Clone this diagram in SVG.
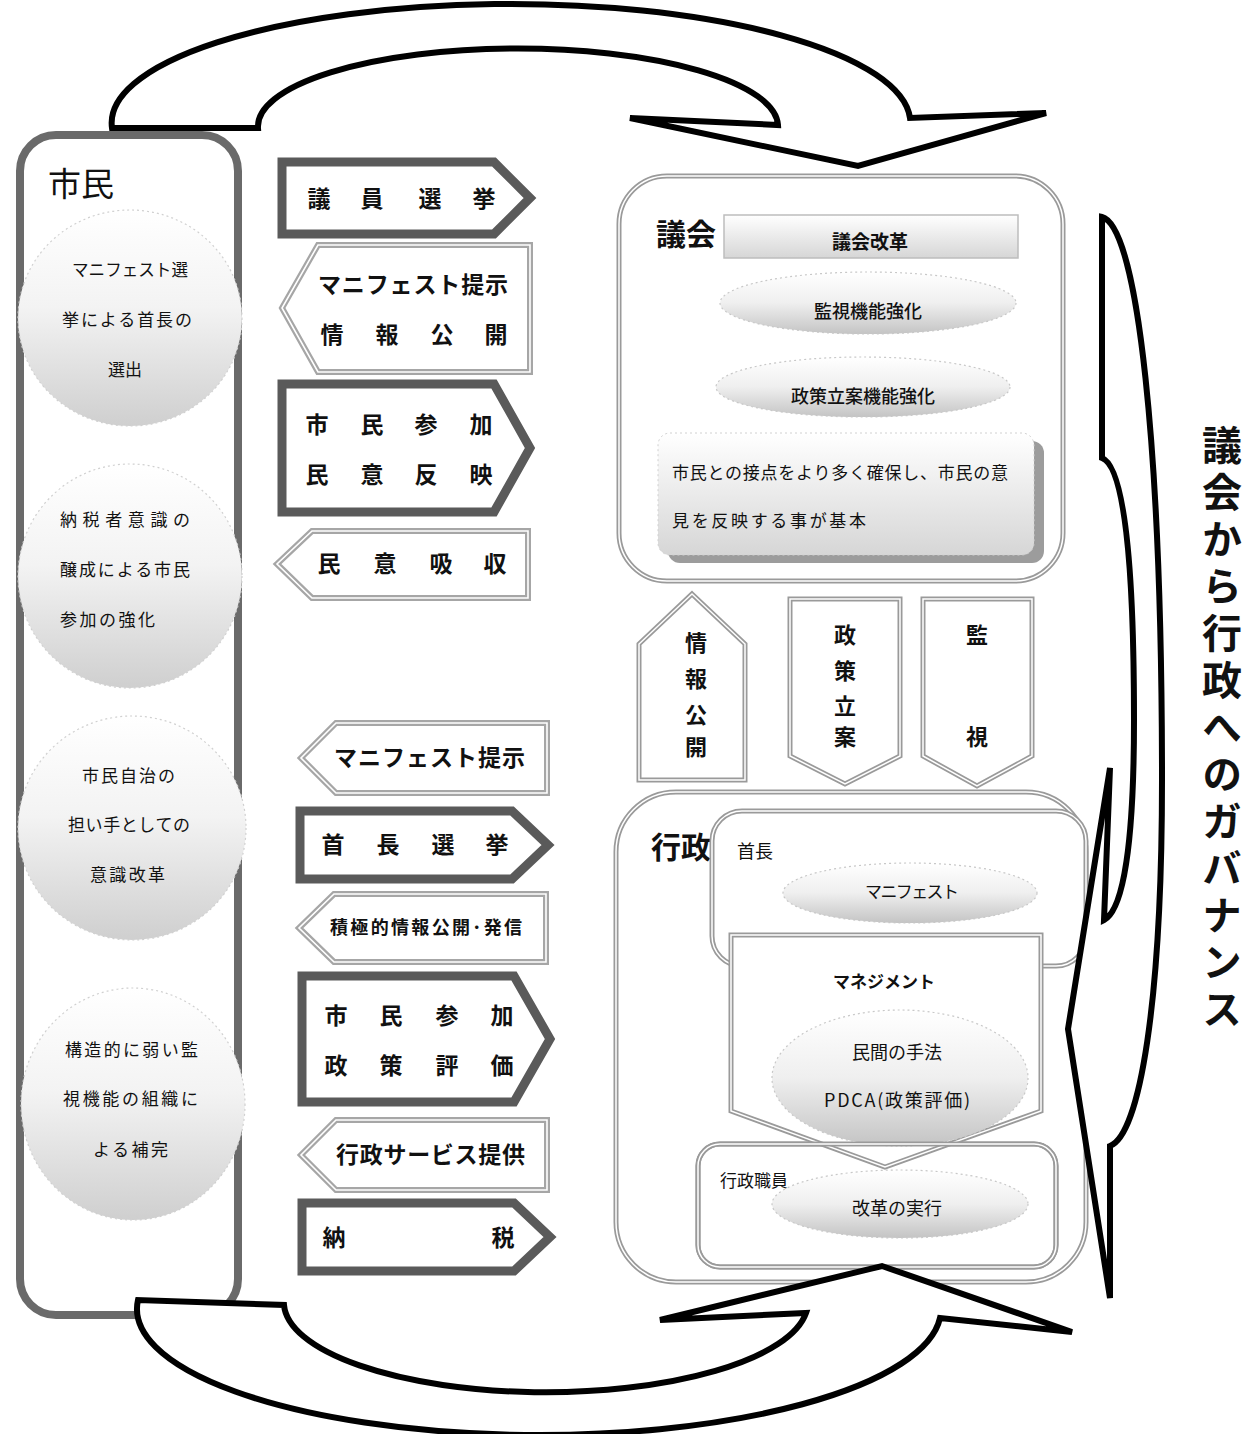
<svg xmlns="http://www.w3.org/2000/svg" width="1248" height="1434" viewBox="0 0 1248 1434">
<defs>
<linearGradient id="gC" x1="0" y1="0" x2="0" y2="1">
<stop offset="0" stop-color="#ffffff"/>
<stop offset="0.45" stop-color="#f3f3f3"/>
<stop offset="1" stop-color="#cfcfcf"/>
</linearGradient>
<linearGradient id="gE" x1="0" y1="0" x2="0" y2="1">
<stop offset="0" stop-color="#ffffff"/>
<stop offset="0.5" stop-color="#efefef"/>
<stop offset="1" stop-color="#c4c4c4"/>
</linearGradient>
<linearGradient id="gR" x1="0" y1="0" x2="0" y2="1">
<stop offset="0" stop-color="#ffffff"/>
<stop offset="1" stop-color="#d6d6d6"/>
</linearGradient>
</defs>
<style>
.t{font-family:"Noto Sans CJK JP","Noto Sans CJK SC",sans-serif;fill:#111}
.b{font-weight:bold}
.heavy{fill:#fff;stroke:#5a5a5a;stroke-width:9;stroke-linejoin:miter}
.light{fill:#fff;stroke:#a6a6a6;stroke-width:6;stroke-linejoin:miter}
.inner{fill:none;stroke:#fff;stroke-width:1.6;stroke-linejoin:miter}
.dbl{fill:#fff;stroke:#9a9a9a;stroke-width:5}
.big{fill:#fff;stroke:#000;stroke-width:6;stroke-linejoin:miter}
.circ{fill:url(#gC);stroke:#d0d0d0;stroke-width:1.2;stroke-dasharray:2 3}
.ell{fill:url(#gE);stroke:#c8c8c8;stroke-width:1.2;stroke-dasharray:2 3}
</style>

<!-- Citizens column -->
<g id="citizens">
<rect x="20" y="135" width="218" height="1180" rx="36" fill="#fff" stroke="#6a6a6a" stroke-width="8"/>
<text class="t" x="48" y="196" font-size="33">市民</text>
</g>
<g id="c1">
<ellipse class="circ" cx="130" cy="318" rx="112" ry="108"/>
<text class="t" font-size="17">
<tspan x="72" y="276" textLength="116" lengthAdjust="spacingAndGlyphs">マニフェスト選</tspan>
<tspan x="62" y="326" textLength="130">挙による首長の</tspan>
<tspan x="108" y="376">選出</tspan>
</text>
</g>
<g id="c2">
<ellipse class="circ" cx="130" cy="576" rx="112" ry="112"/>
<text class="t" font-size="17">
<tspan x="60" y="526" textLength="130">納税者意識の</tspan>
<tspan x="60" y="576" textLength="130">醸成による市民</tspan>
<tspan x="60" y="626" textLength="95">参加の強化</tspan>
</text>
</g>
<g id="c3">
<ellipse class="circ" cx="132" cy="828" rx="114" ry="112"/>
<text class="t" font-size="17">
<tspan x="82" y="782" textLength="93">市民自治の</tspan>
<tspan x="68" y="831" textLength="122">担い手としての</tspan>
<tspan x="90" y="881" textLength="75">意識改革</tspan>
</text>
</g>
<g id="c4">
<ellipse class="circ" cx="133" cy="1104" rx="112" ry="116"/>
<text class="t" font-size="17">
<tspan x="65" y="1056" textLength="133">構造的に弱い監</tspan>
<tspan x="63" y="1105" textLength="135">視機能の組織に</tspan>
<tspan x="93" y="1156" textLength="75">よる補完</tspan>
</text>
</g>

<!-- Middle arrows, upper group -->
<g id="a1">
<path class="heavy" d="M 282 162 H 494 L 530 198 L 494 234 H 282 Z"/>
<text class="t b" font-size="23" text-anchor="middle"><tspan x="319" y="207">議</tspan><tspan x="372" y="207">員</tspan><tspan x="430" y="207">選</tspan><tspan x="484" y="207">挙</tspan></text>
</g>
<g id="a2">
<path class="light" d="M 318 245 H 530 V 372 H 318 L 282 308 Z"/>
<path class="inner" d="M 318 245 H 530 V 372 H 318 L 282 308 Z"/>
<text class="t b" font-size="23"><tspan x="318" y="293" textLength="190">マニフェスト提示</tspan></text>
<text class="t b" font-size="23" text-anchor="middle"><tspan x="332" y="343">情</tspan><tspan x="387" y="343">報</tspan><tspan x="442" y="343">公</tspan><tspan x="496" y="343">開</tspan></text>
</g>
<g id="a3">
<path class="heavy" d="M 282 384 H 494 L 530 448 L 494 512 H 282 Z"/>
<text class="t b" font-size="23" text-anchor="middle"><tspan x="317" y="433">市</tspan><tspan x="372" y="433">民</tspan><tspan x="426" y="433">参</tspan><tspan x="481" y="433">加</tspan></text>
<text class="t b" font-size="23" text-anchor="middle"><tspan x="317" y="483">民</tspan><tspan x="372" y="483">意</tspan><tspan x="426" y="483">反</tspan><tspan x="481" y="483">映</tspan></text>
</g>
<g id="a4">
<path class="light" d="M 312 531 H 528 V 598 H 312 L 277 564 Z"/>
<path class="inner" d="M 312 531 H 528 V 598 H 312 L 277 564 Z"/>
<text class="t b" font-size="23" text-anchor="middle"><tspan x="329" y="572">民</tspan><tspan x="385" y="572">意</tspan><tspan x="441" y="572">吸</tspan><tspan x="495" y="572">収</tspan></text>
</g>

<!-- Middle arrows, lower group -->
<g id="b1">
<path class="light" d="M 336 723 H 547 V 793 H 336 L 301 758 Z"/>
<path class="inner" d="M 336 723 H 547 V 793 H 336 L 301 758 Z"/>
<text class="t b" font-size="23"><tspan x="334" y="766" textLength="191">マニフェスト提示</tspan></text>
</g>
<g id="b2">
<path class="heavy" d="M 300 811 H 512 L 548 845 L 512 879 H 300 Z"/>
<text class="t b" font-size="23" text-anchor="middle"><tspan x="333" y="853">首</tspan><tspan x="388" y="853">長</tspan><tspan x="443" y="853">選</tspan><tspan x="497" y="853">挙</tspan></text>
</g>
<g id="b3">
<path class="light" d="M 334 894 H 546 V 962 H 334 L 299 928 Z"/>
<path class="inner" d="M 334 894 H 546 V 962 H 334 L 299 928 Z"/>
<text class="t b" font-size="18"><tspan x="330" y="934" textLength="192">積極的情報公開･発信</tspan></text>
</g>
<g id="b4">
<path class="heavy" d="M 302 976 H 514 L 550 1039 L 514 1102 H 302 Z"/>
<text class="t b" font-size="23" text-anchor="middle"><tspan x="336" y="1024">市</tspan><tspan x="391" y="1024">民</tspan><tspan x="447" y="1024">参</tspan><tspan x="502" y="1024">加</tspan></text>
<text class="t b" font-size="23" text-anchor="middle"><tspan x="336" y="1074">政</tspan><tspan x="391" y="1074">策</tspan><tspan x="447" y="1074">評</tspan><tspan x="502" y="1074">価</tspan></text>
</g>
<g id="b5">
<path class="light" d="M 336 1120 H 547 V 1190 H 336 L 301 1155 Z"/>
<path class="inner" d="M 336 1120 H 547 V 1190 H 336 L 301 1155 Z"/>
<text class="t b" font-size="23"><tspan x="336" y="1163" textLength="189">行政サービス提供</tspan></text>
</g>
<g id="b6">
<path class="heavy" d="M 302 1203 H 514 L 550 1237 L 514 1271 H 302 Z"/>
<text class="t b" font-size="23" text-anchor="middle"><tspan x="334" y="1246">納</tspan><tspan x="503" y="1246">税</tspan></text>
</g>

<!-- Council -->
<g id="council">
<rect class="dbl" x="619" y="176" width="444" height="405" rx="48"/>
<rect x="619" y="176" width="444" height="405" rx="48" fill="none" stroke="#fff" stroke-width="1.5"/>
<text class="t b" x="656" y="245" font-size="30">議会</text>
</g>
<g id="council-reform">
<rect x="724" y="215" width="294" height="43" fill="url(#gR)" stroke="#bdbdbd" stroke-width="1.5"/>
<text class="t b" x="870" y="249" font-size="19" text-anchor="middle">議会改革</text>
</g>
<g id="oversight">
<ellipse class="ell" cx="868" cy="303" rx="148" ry="31"/>
<text class="t" x="868" y="318" font-size="18" text-anchor="middle" font-weight="500">監視機能強化</text>
</g>
<g id="policy-making">
<ellipse class="ell" cx="863" cy="387" rx="147" ry="30"/>
<text class="t" x="863" y="403" font-size="18" text-anchor="middle" font-weight="500">政策立案機能強化</text>
</g>
<g id="citizen-contact">
<rect x="668" y="441" width="376" height="122" rx="12" fill="#9c9c9c"/>
<rect x="658" y="433" width="376" height="122" rx="12" fill="url(#gR)" stroke="#d0d0d0" stroke-width="1" stroke-dasharray="2 3"/>
<text class="t" font-size="17"><tspan x="672" y="479" textLength="336">市民との接点をより多く確保し、市民の意</tspan><tspan x="672" y="527" textLength="194">見を反映する事が基本</tspan></text>
</g>

<!-- Vertical connectors between council and administration -->
<g id="info-disclosure">
<path class="dbl" d="M 692 594 L 745 644 V 780 H 639 V 644 Z"/>
<path d="M 692 594 L 745 644 V 780 H 639 V 644 Z" fill="none" stroke="#fff" stroke-width="1.5"/>
<text class="t b" font-size="22" text-anchor="middle"><tspan x="696" y="651">情</tspan><tspan x="696" y="687">報</tspan><tspan x="696" y="723">公</tspan><tspan x="696" y="755">開</tspan></text>
</g>
<g id="policy-draft">
<path class="dbl" d="M 790 599 H 900 V 756 L 845 784 L 790 756 Z"/>
<path d="M 790 599 H 900 V 756 L 845 784 L 790 756 Z" fill="none" stroke="#fff" stroke-width="1.5"/>
<text class="t b" font-size="22" text-anchor="middle"><tspan x="845" y="643">政</tspan><tspan x="845" y="679">策</tspan><tspan x="845" y="714">立</tspan><tspan x="845" y="745">案</tspan></text>
</g>
<g id="monitoring">
<path class="dbl" d="M 923 599 H 1032 V 756 L 977 786 L 923 756 Z"/>
<path d="M 923 599 H 1032 V 756 L 977 786 L 923 756 Z" fill="none" stroke="#fff" stroke-width="1.5"/>
<text class="t b" font-size="22" text-anchor="middle"><tspan x="977" y="643">監</tspan><tspan x="977" y="745">視</tspan></text>
</g>

<!-- Administration -->
<g id="administration">
<rect class="dbl" x="616" y="792" width="470" height="490" rx="60"/>
<rect x="616" y="792" width="470" height="490" rx="60" fill="none" stroke="#fff" stroke-width="1.5"/>
<text class="t b" x="651" y="858" font-size="30">行政</text>
</g>
<g id="mayor">
<rect class="dbl" x="712" y="811" width="374" height="155" rx="30"/>
<rect x="712" y="811" width="374" height="155" rx="30" fill="none" stroke="#fff" stroke-width="1.5"/>
<text class="t" x="737" y="858" font-size="18">首長</text>
<ellipse class="ell" cx="910" cy="893" rx="127" ry="30"/>
<text class="t" x="912" y="898" font-size="17" text-anchor="middle" textLength="94">マニフェスト</text>
</g>
<g id="staff">
<rect class="dbl" x="698" y="1144" width="358" height="123" rx="22"/>
</g>
<g id="management">
<path class="dbl" d="M 731 935 H 1041 V 1111 L 885 1167 L 731 1111 Z"/>
<path d="M 731 935 H 1041 V 1111 L 885 1167 L 731 1111 Z" fill="none" stroke="#fff" stroke-width="1.5"/>
<text class="t b" x="884" y="988" font-size="17" text-anchor="middle" textLength="102">マネジメント</text>
<ellipse class="ell" cx="900" cy="1078" rx="128" ry="68"/>
<text class="t" x="897" y="1059" font-size="18" text-anchor="middle">民間の手法</text>
<text class="t" x="897" y="1107" font-size="18" text-anchor="middle" textLength="146">PDCA(政策評価)</text>
</g>
<g id="staff-label">
<rect x="698" y="1144" width="358" height="123" rx="22" fill="none" stroke="#9a9a9a" stroke-width="5"/>
<rect x="698" y="1144" width="358" height="123" rx="22" fill="none" stroke="#fff" stroke-width="1.5"/>
<text class="t" x="720" y="1187" font-size="17">行政職員</text>
<ellipse class="ell" cx="900" cy="1204" rx="128" ry="34"/>
<text class="t" x="897" y="1215" font-size="18" text-anchor="middle">改革の実行</text>
</g>

<!-- Connectors: big curved arrows -->
<g id="connectors">
<path class="big" d="M 112 128 A 399 119 0 0 1 910 118 L 1046 113 L 858 166 L 630 118 L 778 125 A 260 78 0 0 0 258 128 Z"/>
<path class="big" d="M 138 1300 A 402 126 0 0 0 940 1318 L 1072 1332 L 882 1266 L 660 1320 L 806 1313 A 262 90 0 0 1 284 1305 Z"/>
<path class="big" d="M 1102 217 L 1102 458 C 1124 466 1134 560 1134 720 C 1134 840 1124 910 1104 920 L 1110 768 L 1068 1029 L 1110 1298 L 1110 1146 C 1140 1135 1162 1000 1162 780 C 1162 450 1138 226 1102 217 Z"/>
</g>
<g id="governance-label">
<text class="t b" x="1222" y="425" font-size="40" style="writing-mode:vertical-rl;letter-spacing:7px">議会から行政へのガバナンス</text>
</g>
</svg>
